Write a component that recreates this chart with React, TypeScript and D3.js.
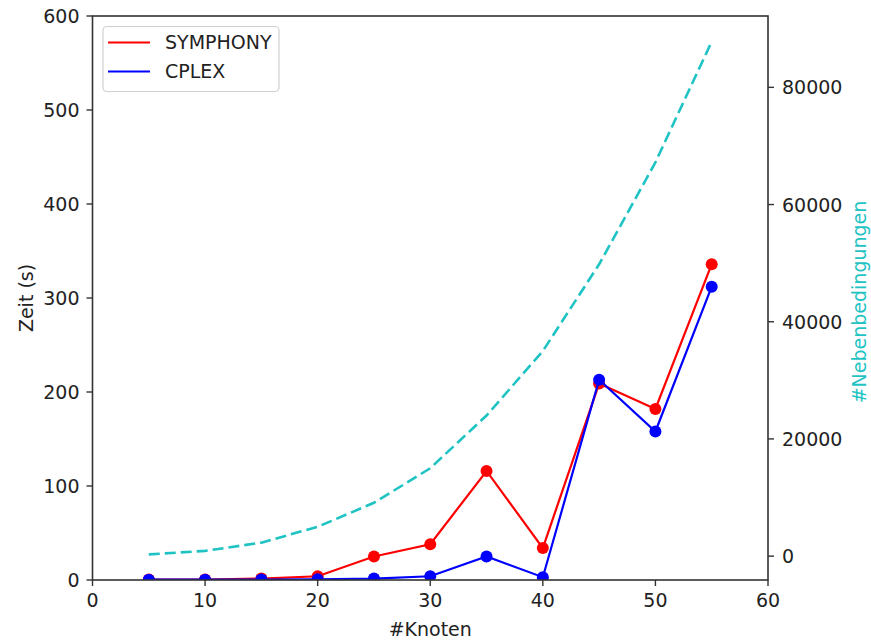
import React from "react";
import * as d3 from "d3";

const knoten = [5, 10, 15, 20, 25, 30, 35, 40, 45, 50, 55];
const symphony = [0.5, 0.5, 1.5, 4, 25, 38, 116, 34, 209, 182, 336];
const cplex = [0.3, 0.3, 0.5, 0.8, 1.5, 4, 25, 3, 213, 158, 312];
const nebenbedingungen = [300, 900, 2300, 5000, 9100, 15000, 24000, 35000, 49800, 67200, 87800];
const xTicks = [0, 10, 20, 30, 40, 50, 60];
const yTicks = [0, 100, 200, 300, 400, 500, 600];
const y2Ticks = [0, 20000, 40000, 60000, 80000];

const W = 871;
const H = 641;
const L = 92.5;
const R = 768;
const T = 16;
const B = 580;
const FONT = "'DejaVu Sans', sans-serif";
const FS = 19;

export default function App() {
  const x = d3.scaleLinear().domain([0, 60]).range([L, R]);
  const y = d3.scaleLinear().domain([0, 600]).range([B, T]);
  const nMin = d3.min(nebenbedingungen) as number;
  const nMax = d3.max(nebenbedingungen) as number;
  const pad = (nMax - nMin) * 0.05;
  const y2 = d3.scaleLinear().domain([nMin - pad, nMax + pad]).range([B, T]);

  const line = d3
    .line<number>()
    .x((_, i) => x(knoten[i]))
    .y((d) => y(d));
  const line2 = d3
    .line<number>()
    .x((_, i) => x(knoten[i]))
    .y((d) => y2(d));

  const axisColor = "#333";
  const tickLen = 6;

  return (
    <svg
      width={W}
      height={H}
      style={{ position: "absolute", left: 0, top: 0, background: "#fff" }}
      fontFamily={FONT}
    >
      <rect x={0} y={0} width={W} height={H} fill="#fff" />
      <defs>
        <clipPath id="plot">
          <rect x={L} y={T} width={R - L} height={B - T} />
        </clipPath>
      </defs>

      {/* series */}
      <g clipPath="url(#plot)">
        <path d={line(symphony) || ""} fill="none" stroke="#ff0000" strokeWidth={2.2} />
        {symphony.map((v, i) => (
          <circle key={"s" + i} cx={x(knoten[i])} cy={y(v)} r={6} fill="#ff0000" />
        ))}
        <path d={line(cplex) || ""} fill="none" stroke="#0000ff" strokeWidth={2.2} />
        {cplex.map((v, i) => (
          <circle key={"c" + i} cx={x(knoten[i])} cy={y(v)} r={6} fill="#0000ff" />
        ))}
        <path
          d={line2(nebenbedingungen) || ""}
          fill="none"
          stroke="#1fc3c3"
          strokeWidth={2.6}
          strokeDasharray="11,5"
        />
      </g>

      {/* frame */}
      <rect x={L} y={T} width={R - L} height={B - T} fill="none" stroke={axisColor} strokeWidth={1.6} />

      {/* x axis */}
      {xTicks.map((t) => (
        <g key={"x" + t}>
          <line x1={x(t)} x2={x(t)} y1={B} y2={B + tickLen} stroke={axisColor} strokeWidth={1.4} />
          <text x={x(t)} y={B + 27} textAnchor="middle" fontSize={FS} fill="#222">
            {t}
          </text>
        </g>
      ))}
      <text x={(L + R) / 2} y={636} textAnchor="middle" fontSize={FS} fill="#222">
        #Knoten
      </text>

      {/* left y axis */}
      {yTicks.map((t) => (
        <g key={"y" + t}>
          <line x1={L - tickLen} x2={L} y1={y(t)} y2={y(t)} stroke={axisColor} strokeWidth={1.4} />
          <text x={L - 13} y={y(t) + 7} textAnchor="end" fontSize={FS} fill="#222">
            {t}
          </text>
        </g>
      ))}
      <text
        transform={`translate(33,${(T + B) / 2}) rotate(-90)`}
        textAnchor="middle"
        fontSize={FS}
        fill="#222"
      >
        Zeit (s)
      </text>

      {/* right y axis */}
      {y2Ticks.map((t) => (
        <g key={"y2" + t}>
          <line x1={R} x2={R + tickLen} y1={y2(t)} y2={y2(t)} stroke={axisColor} strokeWidth={1.4} />
          <text x={R + 14} y={y2(t) + 7} textAnchor="start" fontSize={FS} fill="#222">
            {t}
          </text>
        </g>
      ))}
      <text
        transform={`translate(866,${(T + B) / 2 + 4}) rotate(-90)`}
        textAnchor="middle"
        fontSize={FS}
        fill="#1fc3c3"
      >
        #Nebenbedingungen
      </text>

      {/* legend */}
      <g>
        <rect
          x={103}
          y={26.5}
          width={176}
          height={65}
          rx={4}
          fill="#fff"
          fillOpacity={0.8}
          stroke="#d0d0d0"
          strokeWidth={1.2}
        />
        <line x1={108} x2={150} y1={42.5} y2={42.5} stroke="#ff0000" strokeWidth={2.2} />
        <text x={165} y={49} fontSize={FS} fill="#222">
          SYMPHONY
        </text>
        <line x1={108} x2={150} y1={71.5} y2={71.5} stroke="#0000ff" strokeWidth={2.2} />
        <text x={165} y={78} fontSize={FS} fill="#222">
          CPLEX
        </text>
      </g>
    </svg>
  );
}
